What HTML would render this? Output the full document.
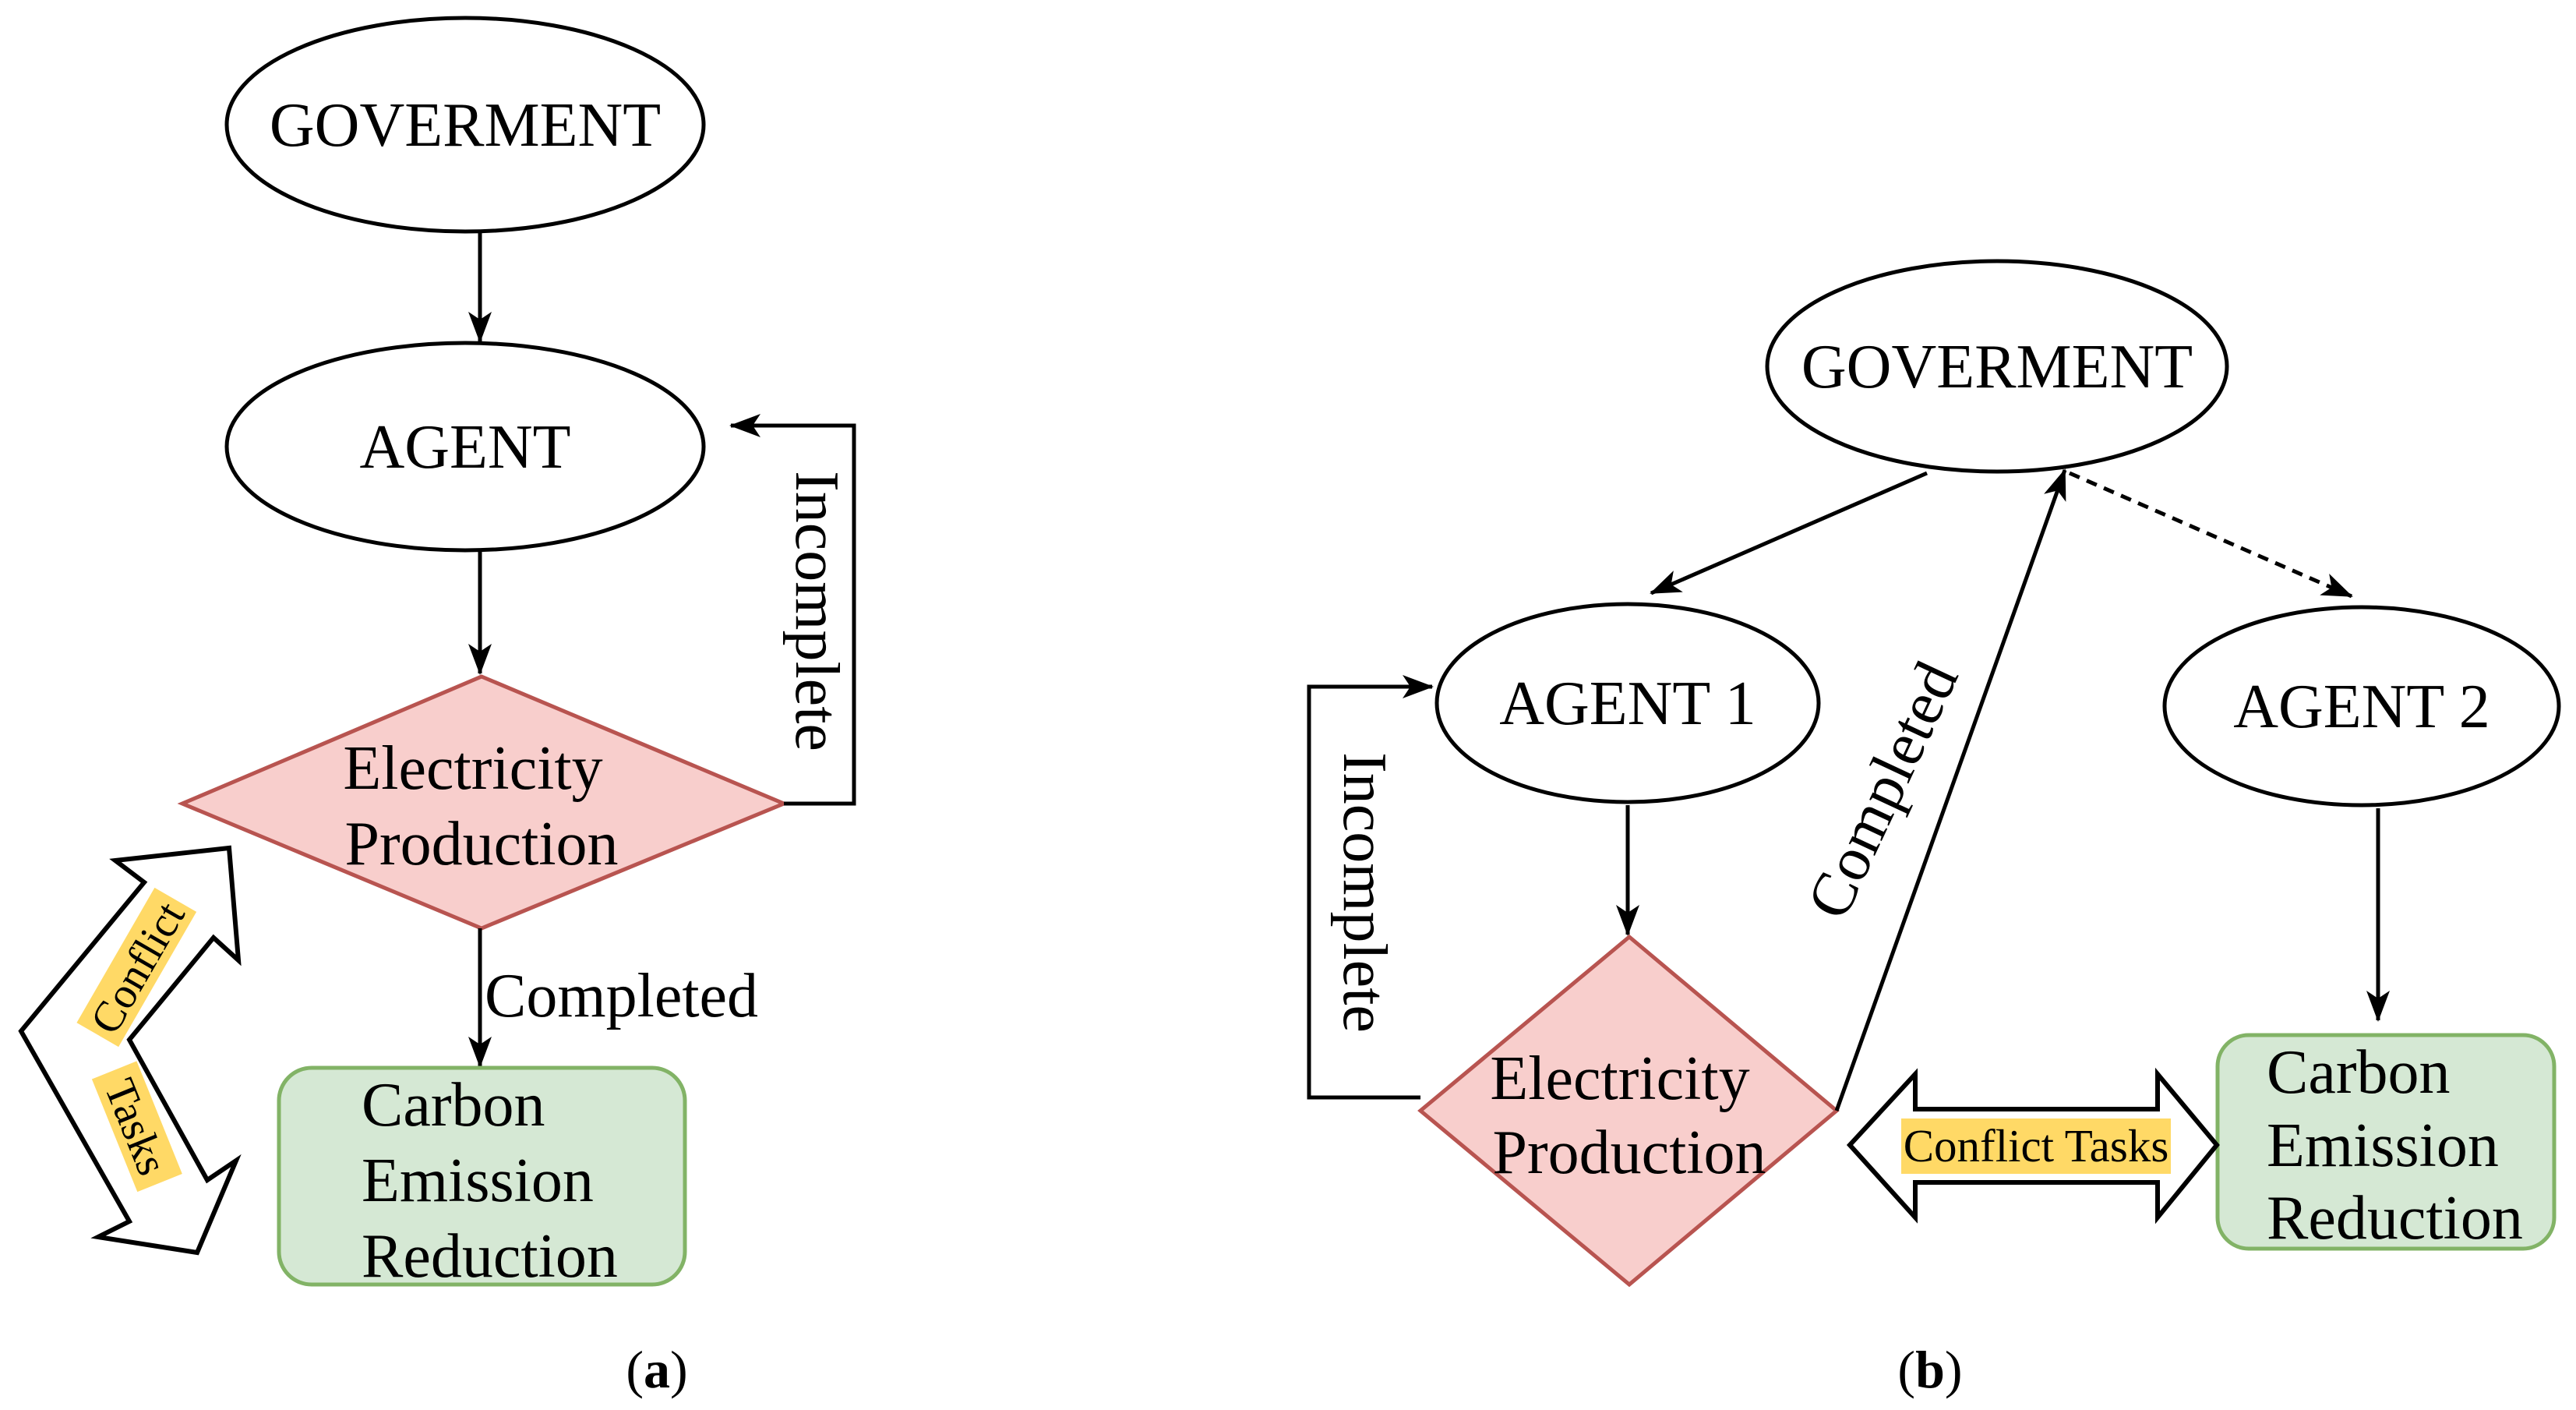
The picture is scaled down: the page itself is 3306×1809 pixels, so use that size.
<!DOCTYPE html>
<html><head><meta charset="utf-8"><style>
html,body{margin:0;padding:0;background:#fff;}
svg{display:block;}
text{font-family:"Liberation Serif",serif;fill:#000;}
</style></head><body>
<svg width="3306" height="1809" viewBox="0 0 3306 1809" xmlns="http://www.w3.org/2000/svg">
<defs>
<marker id="a" viewBox="0 0 40 30" refX="38" refY="15" markerWidth="40" markerHeight="30" orient="auto" markerUnits="userSpaceOnUse">
<path d="M0,0 L40,15 L0,30 L10,15 Z" fill="#000"/>
</marker>
</defs>

<!-- LEFT (a) -->
<ellipse cx="597" cy="160" rx="306" ry="137" fill="#fff" stroke="#000" stroke-width="5"/>
<text x="597" y="187" font-size="80" text-anchor="middle">GOVERMENT</text>
<line x1="616" y1="297" x2="616" y2="438" stroke="#000" stroke-width="5" marker-end="url(#a)"/>
<ellipse cx="597" cy="573" rx="306" ry="133" fill="#fff" stroke="#000" stroke-width="5"/>
<text x="597" y="600" font-size="80" text-anchor="middle">AGENT</text>
<line x1="616" y1="706" x2="616" y2="864" stroke="#000" stroke-width="5" marker-end="url(#a)"/>
<polygon points="618,868 1006,1031 618,1191 234,1031" fill="#f8cecc" stroke="#b85450" stroke-width="5"/>
<text x="607" y="1012" font-size="80" text-anchor="middle">Electricity</text>
<text x="618" y="1109" font-size="80" text-anchor="middle">Production</text>
<polyline points="1006,1031 1096,1031 1096,546 938,546" fill="none" stroke="#000" stroke-width="5" marker-end="url(#a)"/>
<text transform="translate(1022,784) rotate(90)" font-size="80" text-anchor="middle">Incomplete</text>
<line x1="616" y1="1191" x2="616" y2="1368" stroke="#000" stroke-width="5" marker-end="url(#a)"/>
<text x="622" y="1304" font-size="80">Completed</text>
<rect x="358" y="1370" width="521" height="278" rx="42" fill="#d5e8d4" stroke="#82b366" stroke-width="5"/>
<text x="464" y="1444" font-size="80">Carbon</text>
<text x="464" y="1541" font-size="80">Emission</text>
<text x="464" y="1638" font-size="80">Reduction</text>
<polygon points="148,1104 294,1088 306,1232 274,1203 166,1334 266,1514 303,1489 253,1607 126,1587 166,1567 27,1323 185,1132" fill="#fff" stroke="#000" stroke-width="6"/>
<g transform="translate(177,1242) rotate(-60)">
<rect x="-100" y="-33" width="200" height="62" fill="#ffd966"/>
<text x="0" y="18" font-size="56" text-anchor="middle">Conflict</text>
</g>
<g transform="translate(174,1446) rotate(68)">
<rect x="-78" y="-33" width="156" height="62" fill="#ffd966"/>
<text x="0" y="18" font-size="56" text-anchor="middle">Tasks</text>
</g>
<text x="843" y="1780" font-size="68" text-anchor="middle">(<tspan font-weight="bold">a</tspan>)</text>

<!-- RIGHT (b) -->
<ellipse cx="2563" cy="470" rx="295" ry="135" fill="#fff" stroke="#000" stroke-width="5"/>
<text x="2563" y="497" font-size="80" text-anchor="middle">GOVERMENT</text>
<line x1="2473" y1="607" x2="2119" y2="761" stroke="#000" stroke-width="5" marker-end="url(#a)"/>
<line x1="2656" y1="607" x2="3018" y2="765" stroke="#000" stroke-width="5" stroke-dasharray="14,10" marker-end="url(#a)"/>
<ellipse cx="2089" cy="902" rx="245" ry="127" fill="#fff" stroke="#000" stroke-width="5"/>
<text x="2089" y="929" font-size="80" text-anchor="middle">AGENT 1</text>
<ellipse cx="3031" cy="906" rx="253" ry="127" fill="#fff" stroke="#000" stroke-width="5"/>
<text x="3031" y="933" font-size="80" text-anchor="middle">AGENT 2</text>
<line x1="2089" y1="1033" x2="2089" y2="1199" stroke="#000" stroke-width="5" marker-end="url(#a)"/>
<polygon points="2091,1202 2357,1425 2091,1648 1823,1425" fill="#f8cecc" stroke="#b85450" stroke-width="5"/>
<text x="2079" y="1410" font-size="80" text-anchor="middle">Electricity</text>
<text x="2091" y="1505" font-size="80" text-anchor="middle">Production</text>
<polyline points="1823,1408 1680,1408 1680,881 1838,881" fill="none" stroke="#000" stroke-width="5" marker-end="url(#a)"/>
<text transform="translate(1725,1145) rotate(90)" font-size="80" text-anchor="middle">Incomplete</text>
<line x1="2357" y1="1425" x2="2650" y2="603" stroke="#000" stroke-width="5" marker-end="url(#a)"/>
<text transform="translate(2440,1025) rotate(-65)" font-size="80" text-anchor="middle">Completed</text>
<line x1="3052" y1="1037" x2="3052" y2="1309" stroke="#000" stroke-width="5" marker-end="url(#a)"/>
<rect x="2846" y="1328" width="432" height="274" rx="40" fill="#d5e8d4" stroke="#82b366" stroke-width="5"/>
<text x="2909" y="1402" font-size="80">Carbon</text>
<text x="2909" y="1496" font-size="80">Emission</text>
<text x="2909" y="1589" font-size="80">Reduction</text>
<polygon points="2374,1469 2458,1378 2458,1423 2769,1423 2769,1378 2845,1469 2769,1562 2769,1517 2458,1517 2458,1562" fill="#fff" stroke="#000" stroke-width="6"/>
<rect x="2440" y="1435" width="346" height="71" fill="#ffd966"/>
<text x="2613" y="1490" font-size="59" text-anchor="middle">Conflict Tasks</text>
<text x="2477" y="1780" font-size="68" text-anchor="middle">(<tspan font-weight="bold">b</tspan>)</text>
</svg>
</body></html>
